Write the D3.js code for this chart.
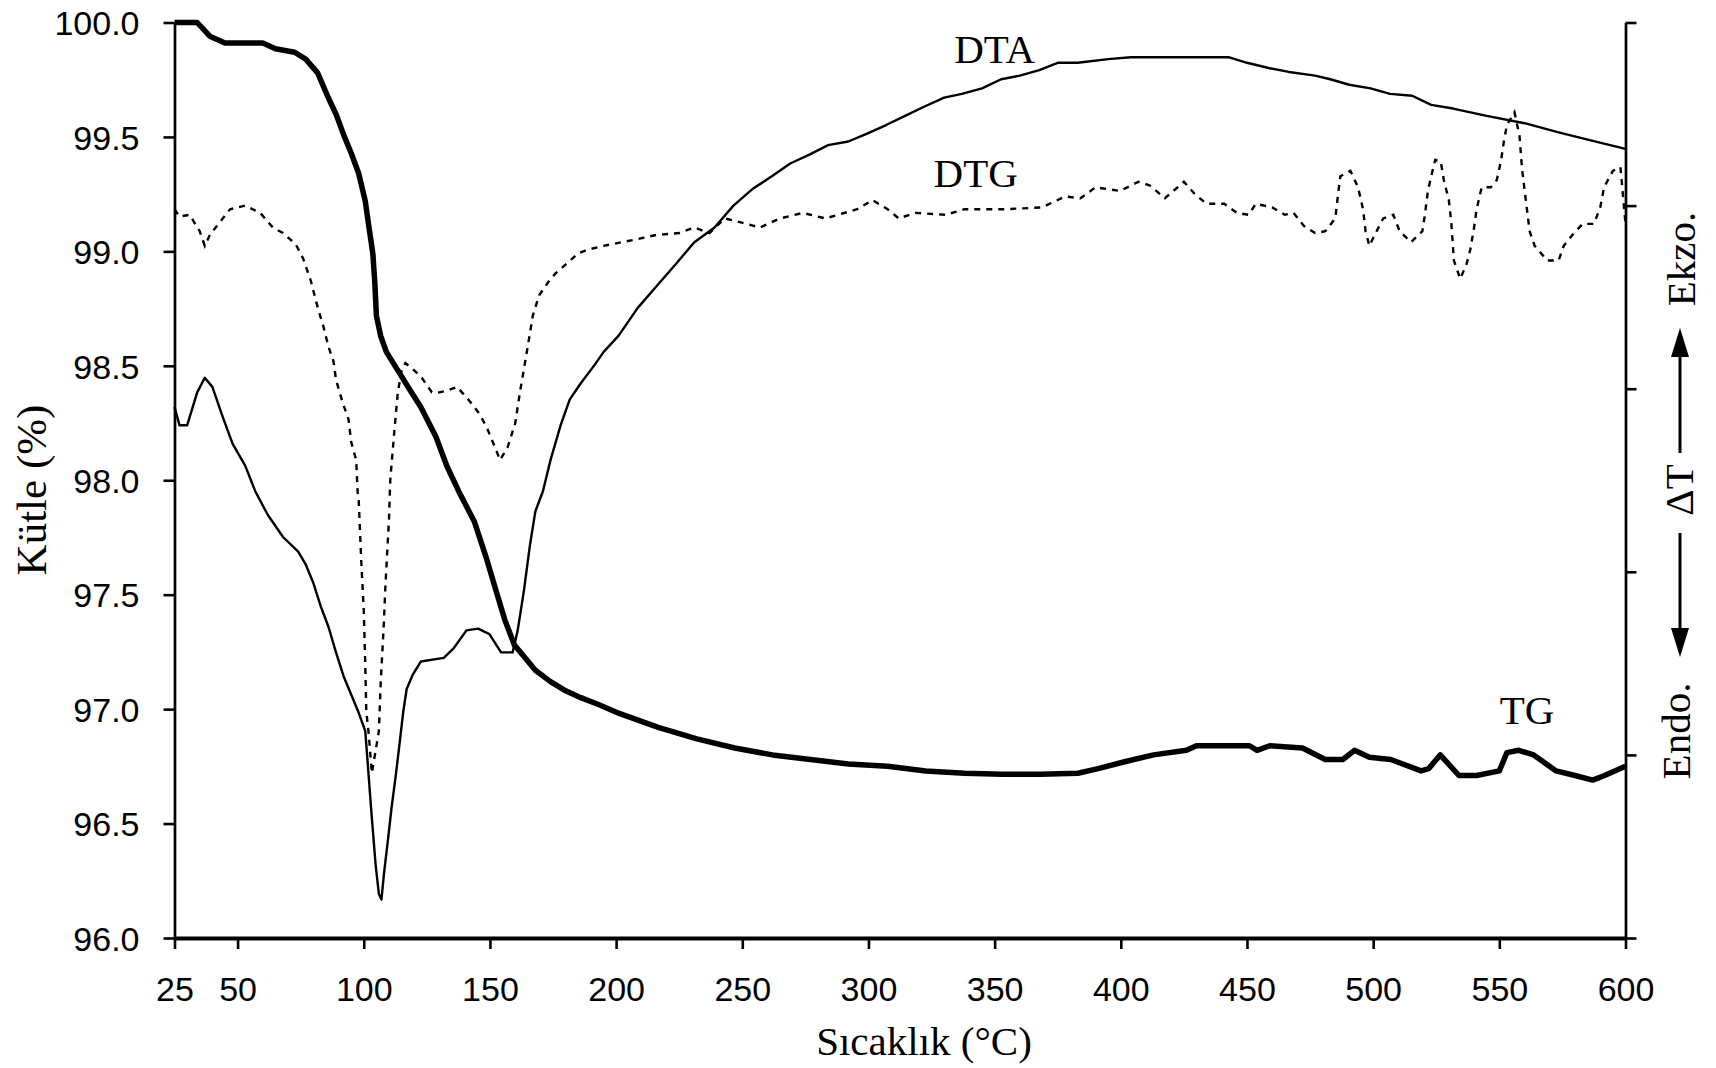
<!DOCTYPE html>
<html>
<head>
<meta charset="utf-8">
<script src="https://cdn.jsdelivr.net/npm/d3@7"></script>
<style>
  html, body { margin: 0; padding: 0; background: #ffffff; }
  svg { display: block; }
</style>
</head>
<body>
<svg id="chart" width="1716" height="1068"></svg>
<script>
// ---- Data (temperature °C, value) ----
// TG: mass (%) on left axis
const tgData = [
  [25,100.0],[34,100.0],[39,99.94],[45,99.91],[60,99.91],[65,99.885],[72.6,99.87],[77,99.84],
  [81.7,99.78],[86,99.67],[89,99.60],[92,99.51],[95,99.43],[98,99.34],[100.6,99.22],[102,99.11],
  [103.6,98.99],[104.4,98.86],[105,98.72],[106.7,98.63],[109,98.56],[113.5,98.48],[118,98.40],
  [122.6,98.32],[128.6,98.19],[133,98.06],[137.7,97.95],[143.8,97.82],[148.3,97.67],[152.9,97.50],
  [155.9,97.39],[159.7,97.28],[163.5,97.23],[168,97.17],[174,97.12],[180,97.08],[186,97.05],
  [193,97.02],[201.5,96.98],[216.7,96.92],[232,96.87],[247,96.83],[262,96.80],[277,96.78],
  [292,96.76],[307.6,96.75],[322.7,96.73],[338,96.72],[353,96.715],[368,96.715],[383,96.72],
  [391,96.74],[401.5,96.77],[413,96.80],[426,96.82],[430,96.84],[451,96.84],[454,96.82],
  [459,96.84],[472,96.83],[481,96.78],[488,96.78],[492.6,96.82],[498.5,96.79],[507,96.78],
  [519,96.73],[522,96.74],[526.6,96.80],[534,96.71],[541,96.71],[550,96.73],[553,96.81],
  [557.7,96.82],[563.6,96.80],[572.5,96.73],[580,96.71],[587,96.69],[591.7,96.71],[600,96.75]
];
// DTA: ΔT (arbitrary units, right axis 0–5)
const dtaData = [
  [25,2.90],[27,2.80],[30,2.80],[34,2.98],[37,3.06],[40,3.01],[44,2.85],[48,2.70],[53,2.58],[57,2.44],
  [62,2.31],[68,2.19],[74,2.11],[77,2.04],[80,1.94],[83,1.81],[86,1.70],[89,1.56],[92,1.43],[95,1.33],
  [98,1.23],[100.6,1.13],[101.7,0.93],[103,0.69],[104.7,0.40],[106,0.24],[107,0.21],[108,0.35],[109.7,0.55],[111,0.71],
  [112.7,0.89],[114,1.04],[115.6,1.23],[117,1.36],[119.5,1.44],[122.6,1.51],[131.7,1.53],[135.5,1.58],[140.7,1.68],[145.3,1.69],
  [149.8,1.66],[154.4,1.56],[159,1.56],[161,1.68],[163.5,1.90],[165.8,2.14],[168,2.33],[171,2.44],[174,2.61],[178,2.80],
  [181.6,2.94],[186,3.03],[191.5,3.13],[195,3.20],[201,3.29],[208.5,3.44],[216,3.56],[223.6,3.68],[231,3.80],[239,3.88],
  [246.5,4.00],[254,4.09],[261.7,4.16],[269,4.23],[276.8,4.28],[284,4.33],[292,4.35],[299,4.39],[307,4.44],[314.5,4.49],
  [322,4.54],[330,4.59],[337,4.61],[345,4.64],[352.6,4.69],[360,4.71],[367.7,4.74],[375,4.78],[383,4.78],[395,4.80],
  [404,4.81],[443,4.81],[450,4.78],[459,4.75],[466.6,4.73],[477,4.71],[483,4.69],[490.5,4.66],[499,4.64],[506.7,4.61],
  [515.5,4.60],[523,4.55],[531.7,4.53],[545,4.49],[560,4.45],[573.5,4.40],[585,4.36],[600,4.31]
];
// DTG: (arbitrary units, right axis 0–5)
const dtgData = [
  [25,3.98],[27,3.94],[31,3.95],[35,3.86],[37,3.78],[39,3.84],[43,3.91],[47,3.98],[53,4.00],[59,3.96],
  [64,3.88],[68,3.85],[73,3.79],[76,3.71],[79,3.59],[82,3.43],[84,3.34],[86,3.23],[88,3.15],[89,3.05],
  [91.5,2.93],[94,2.83],[95,2.71],[97,2.61],[97.6,2.43],[98,2.39],[99,2.06],[100,1.79],[100.6,1.49],[101,1.24],
  [102,1.11],[103.2,0.90],[106,1.13],[106.7,1.39],[108,1.73],[108.5,1.90],[110,2.29],[110.5,2.50],[112,2.75],[113.5,2.98],
  [115,3.10],[116.5,3.14],[120,3.10],[123,3.06],[127,2.98],[130,2.98],[133,2.99],[137,3.01],[141.5,2.94],[146,2.86],
  [149,2.78],[152,2.68],[154,2.61],[157,2.68],[160,2.81],[162,2.99],[163.5,3.11],[165.7,3.29],[167,3.40],[169.5,3.51],
  [173,3.58],[176,3.63],[181,3.69],[185,3.74],[189,3.76],[195,3.78],[206,3.81],[216,3.84],[225,3.85],[231,3.88],
  [237,3.85],[243,3.93],[249,3.91],[257,3.88],[265,3.93],[274,3.96],[283,3.93],[295.5,3.98],[301.6,4.03],[307.6,3.98],
  [312,3.93],[318.5,3.96],[330.6,3.95],[338,3.98],[353.6,3.98],[368.7,3.99],[378,4.05],[384,4.04],[390,4.10],[399.7,4.08],
  [407,4.13],[411.5,4.11],[417.5,4.04],[425,4.13],[429.5,4.06],[434,4.01],[441,4.01],[446,3.96],[450.6,3.95],[453.5,4.01],
  [460,3.99],[465,3.95],[468.5,3.96],[472.5,3.89],[477,3.85],[481,3.86],[485,3.93],[486,4.05],[487,4.16],[491,4.19],
  [494,4.10],[496,3.98],[497,3.86],[498.5,3.78],[501,3.85],[504,3.93],[508,3.95],[510.5,3.86],[515,3.80],[519.5,3.86],
  [520.5,3.95],[521.7,4.08],[523,4.16],[524.6,4.25],[526.8,4.24],[528,4.14],[530,4.03],[531,3.90],[532,3.70],[534.5,3.60],
  [537,3.68],[538.5,3.76],[540,3.88],[541,3.98],[543,4.10],[546.6,4.10],[549,4.14],[550.6,4.24],[551.8,4.35],[553,4.44],
  [556,4.51],[558,4.38],[559,4.20],[560.5,4.03],[562,3.86],[564,3.78],[569,3.70],[573.5,3.70],[575.5,3.78],[579,3.84],
  [583,3.90],[587.5,3.90],[590,3.99],[591.5,4.10],[595,4.19],[598,4.21],[600,3.90]
];
const xTickValues = [25, 50, 100, 150, 200, 250, 300, 350, 400, 450, 500, 550, 600];
const yLeftTicks = [96.0, 96.5, 97.0, 97.5, 98.0, 98.5, 99.0, 99.5, 100.0];
const yRightTicks = [0, 1, 2, 3, 4, 5];
const curveLabels = [
  { text: "DTA", t: 350, v: 4.78 },
  { text: "DTG", t: 342.5, v: 4.10 },
  { text: "TG",  t: 561, v: 1.17 }
];

// ---- Layout ----
const svg = d3.select("#chart");
const plotL = 174.5, plotR = 1625.5, plotT = 22.5, plotB = 938;
const serif = "'Liberation Serif', 'Times New Roman', serif";
const sans = "'Liberation Sans', Arial, sans-serif";

const x = d3.scaleLinear().domain([25, 600]).range([plotL, plotR]);
const yL = d3.scaleLinear().domain([96, 100]).range([plotB, plotT]);
const yR = d3.scaleLinear().domain([0, 5]).range([plotB, plotT]);

svg.append("rect").attr("width", 1716).attr("height", 1068).attr("fill", "#fff");

// ---- Lines ----
const lineL = d3.line().x(d => x(d[0])).y(d => yL(d[1]));
const lineR = d3.line().x(d => x(d[0])).y(d => yR(d[1]));

svg.append("path").datum(dtgData).attr("d", lineR)
  .attr("fill", "none").attr("stroke", "#000").attr("stroke-width", 2.4)
  .attr("stroke-dasharray", "6,6");
svg.append("path").datum(dtaData).attr("d", lineR)
  .attr("fill", "none").attr("stroke", "#000").attr("stroke-width", 2.4)
  .attr("stroke-linejoin", "round");
svg.append("path").datum(tgData).attr("d", lineL)
  .attr("fill", "none").attr("stroke", "#000").attr("stroke-width", 5.5)
  .attr("stroke-linejoin", "round");

// ---- Axes ----
function styleAxis(g, pathWidth) {
  g.attr("font-family", sans).attr("font-size", 34);
  g.select(".domain").attr("stroke", "#000").attr("stroke-width", pathWidth);
  g.selectAll(".tick line").attr("stroke", "#000").attr("stroke-width", 2.6);
  g.selectAll(".tick text").attr("fill", "#000");
}

const gLeft = svg.append("g").attr("transform", `translate(${plotL},0)`)
  .call(d3.axisLeft(yL).tickValues(yLeftTicks).tickFormat(d3.format(".1f"))
    .tickSize(11).tickSizeOuter(0).tickPadding(24));
styleAxis(gLeft, 2.7);
gLeft.selectAll(".tick text").attr("dy", "0.36em");

const gRight = svg.append("g").attr("transform", `translate(${plotR},0)`)
  .call(d3.axisRight(yR).tickValues(yRightTicks).tickFormat("")
    .tickSize(11).tickSizeOuter(0));
styleAxis(gRight, 2.7);

const gBottom = svg.append("g").attr("transform", `translate(0,${plotB})`)
  .call(d3.axisBottom(x).tickValues(xTickValues).tickFormat(d3.format("d"))
    .tickSize(11).tickSizeOuter(0).tickPadding(28));
styleAxis(gBottom, 3.8);

// ---- Axis titles ----
svg.append("text")
  .attr("transform", "translate(46,490) rotate(-90)")
  .attr("text-anchor", "middle").attr("font-family", serif).attr("font-size", 43)
  .text("Kütle (%)");

svg.append("text")
  .attr("x", 924).attr("y", 1055)
  .attr("text-anchor", "middle").attr("font-family", serif).attr("font-size", 41)
  .text("Sıcaklık (°C)");

// Right-side ΔT label with arrows
const rx = 1680;
svg.append("text").attr("transform", "translate(1695,259) rotate(-90)")
  .attr("text-anchor", "middle").attr("font-family", serif).attr("font-size", 41).text("Ekzo.");
svg.append("text").attr("transform", "translate(1693,490) rotate(-90)")
  .attr("text-anchor", "middle").attr("font-family", serif).attr("font-size", 41).text("ΔT");
svg.append("text").attr("transform", "translate(1690,731) rotate(-90)")
  .attr("text-anchor", "middle").attr("font-family", serif).attr("font-size", 41).text("Endo.");
// up arrow
svg.append("line").attr("x1", rx).attr("x2", rx).attr("y1", 453).attr("y2", 350)
  .attr("stroke", "#000").attr("stroke-width", 3);
svg.append("path").attr("d", `M${rx},328 L${rx - 9},357 L${rx + 9},357 Z`).attr("fill", "#000");
// down arrow
svg.append("line").attr("x1", rx).attr("x2", rx).attr("y1", 533).attr("y2", 635)
  .attr("stroke", "#000").attr("stroke-width", 3);
svg.append("path").attr("d", `M${rx},657 L${rx - 9},628 L${rx + 9},628 Z`).attr("fill", "#000");

// ---- Curve labels ----
curveLabels.forEach(l => {
  svg.append("text").attr("x", x(l.t)).attr("y", yR(l.v))
    .attr("text-anchor", "middle").attr("font-family", serif).attr("font-size", 41)
    .text(l.text);
});
</script>
</body>
</html>
